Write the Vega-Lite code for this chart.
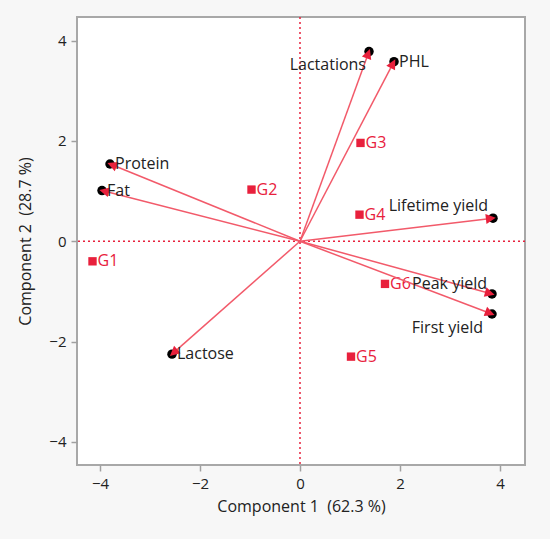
{
  "$schema": "https://vega.github.io/schema/vega-lite/v6.json",
  "width": 448,
  "height": 448,
  "autosize": {"type": "none"},
  "padding": {"left": 77, "top": 17, "right": 25, "bottom": 74},
  "background": "#f7f7f7",
  "config": {
    "font": "Open Sans",
    "view": {"stroke": "#a8a8a8", "strokeWidth": 2, "fill": "white"},
    "axis": {
      "grid": false,
      "domain": false,
      "tickColor": "#a0a0a0",
      "tickSize": 6,
      "tickWidth": 1.5,
      "labelFontSize": 15,
      "labelColor": "#222",
      "labelPadding": 5,
      "titleFontSize": 16,
      "titleFontWeight": "normal",
      "titleColor": "#222"
    }
  },
  "datasets": {
    "vars": [
      {"name": "Protein", "x": -3.8, "y": 1.54},
      {"name": "Fat", "x": -3.96, "y": 1.01},
      {"name": "Lactations", "x": 1.38, "y": 3.78},
      {"name": "PHL", "x": 1.88, "y": 3.58},
      {"name": "Lifetime yield", "x": 3.86, "y": 0.46},
      {"name": "Peak yield", "x": 3.84, "y": -1.05},
      {"name": "First yield", "x": 3.84, "y": -1.45},
      {"name": "Lactose", "x": -2.56, "y": -2.25}
    ],
    "groups": [
      {"name": "G1", "x": -4.15, "y": -0.4},
      {"name": "G2", "x": -0.97, "y": 1.03},
      {"name": "G3", "x": 1.21, "y": 1.96},
      {"name": "G4", "x": 1.19, "y": 0.53},
      {"name": "G6", "x": 1.7, "y": -0.85},
      {"name": "G5", "x": 1.02, "y": -2.3}
    ],
    "ref": [{"v": 0}]
  },
  "encoding": {
    "x": {
      "field": "x", "type": "quantitative",
      "scale": {"domain": [-4.46, 4.5], "nice": false, "zero": false},
      "axis": {"values": [-4, -2, 0, 2, 4], "title": "Component 1 \u00a0(62.3 %)", "titlePadding": 7}
    },
    "y": {
      "field": "y", "type": "quantitative",
      "scale": {"domain": [-4.46, 4.47], "nice": false, "zero": false},
      "axis": {"values": [-4, -2, 0, 2, 4], "title": "Component 2 \u00a0(28.7 %)", "titlePadding": 15}
    }
  },
  "layer": [
    {
      "data": {"values": [{"v": -3}, {"v": -1}, {"v": 1}, {"v": 3}]},
      "mark": {"type": "tick", "orient": "vertical", "color": "#a0a0a0", "size": 5, "thickness": 1.5, "clip": false, "yOffset": 3.5},
      "encoding": {"x": {"field": "v", "type": "quantitative"}, "y": {"datum": -4.46}}
    },
    {
      "data": {"values": [{"v": -3}, {"v": -1}, {"v": 1}, {"v": 3}]},
      "mark": {"type": "tick", "orient": "horizontal", "color": "#a0a0a0", "size": 5, "thickness": 1.5, "clip": false, "xOffset": -3.5},
      "encoding": {"y": {"field": "v", "type": "quantitative"}, "x": {"datum": -4.46}}
    },
    {
      "data": {"name": "ref"},
      "mark": {"type": "rule", "color": "#e8203c", "strokeDash": [2, 3], "strokeWidth": 1.5},
      "encoding": {"x": {"field": "v", "type": "quantitative"}, "y": null}
    },
    {
      "data": {"name": "ref"},
      "mark": {"type": "rule", "color": "#e8203c", "strokeDash": [2, 3], "strokeWidth": 1.5},
      "encoding": {"y": {"field": "v", "type": "quantitative"}, "x": null}
    },
    {
      "data": {"name": "groups"},
      "mark": {"type": "square", "color": "#e8203c", "opacity": 1, "size": 70},
      "encoding": {}
    },
    {
      "data": {"name": "groups"},
      "mark": {"type": "text", "align": "left", "dx": 5, "fontSize": 16, "color": "#e8203c"},
      "encoding": {"text": {"field": "name"}}
    },
    {
      "data": {"name": "vars"},
      "mark": {"type": "rule", "color": "#f25a6a", "strokeWidth": 1.5},
      "encoding": {"x2": {"datum": 0}, "y2": {"datum": 0}}
    },
    {
      "data": {"name": "vars"},
      "mark": {"type": "circle", "color": "black", "opacity": 1, "size": 90},
      "encoding": {}
    },
    {
      "data": {"name": "vars"},
      "transform": [{"calculate": "atan2(datum.x, datum.y) * 180 / PI", "as": "ang"}],
      "mark": {"type": "point", "shape": "M0,-0.25L-0.45,0.65L0.45,0.65Z", "filled": true, "color": "#e8203c", "opacity": 1, "size": 480},
      "encoding": {"angle": {"field": "ang", "type": "quantitative", "scale": null}}
    },
    {
      "data": {"name": "vars"},
      "transform": [{"filter": {"field": "name", "oneOf": ["Protein", "Fat", "PHL", "Lactose"]}}],
      "mark": {"type": "text", "align": "left", "dx": 5, "fontSize": 16, "color": "#222"},
      "encoding": {"text": {"field": "name"}}
    },
    {
      "data": {"name": "vars"},
      "transform": [{"filter": {"field": "name", "equal": "Lactations"}}],
      "mark": {"type": "text", "align": "right", "dx": -3, "dy": 13, "fontSize": 16, "color": "#222"},
      "encoding": {"text": {"field": "name"}}
    },
    {
      "data": {"name": "vars"},
      "transform": [{"filter": {"field": "name", "equal": "Lifetime yield"}}],
      "mark": {"type": "text", "align": "right", "dx": -5, "dy": -12, "fontSize": 16, "color": "#222"},
      "encoding": {"text": {"field": "name"}}
    },
    {
      "data": {"name": "vars"},
      "transform": [{"filter": {"field": "name", "equal": "Peak yield"}}],
      "mark": {"type": "text", "align": "right", "dx": -5, "dy": -10, "fontSize": 16, "color": "#222"},
      "encoding": {"text": {"field": "name"}}
    },
    {
      "data": {"name": "vars"},
      "transform": [{"filter": {"field": "name", "equal": "First yield"}}],
      "mark": {"type": "text", "align": "right", "dx": -9, "dy": 14, "fontSize": 16, "color": "#222"},
      "encoding": {"text": {"field": "name"}}
    }
  ]
}
